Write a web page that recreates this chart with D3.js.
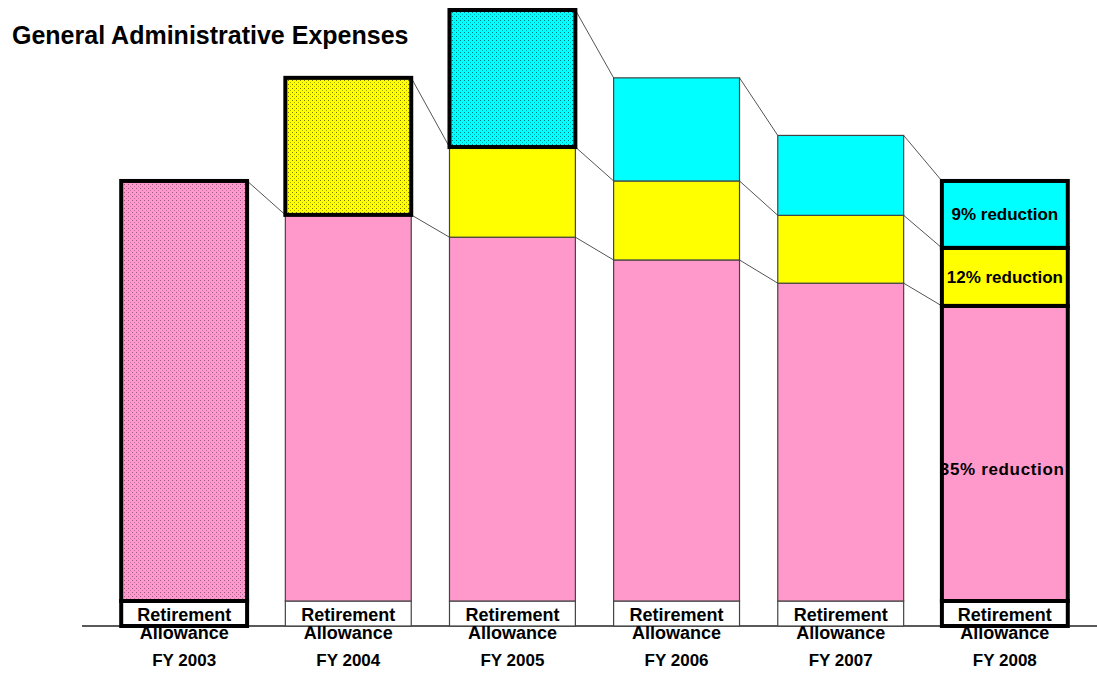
<!DOCTYPE html>
<html>
<head>
<meta charset="utf-8">
<script src="https://cdn.jsdelivr.net/npm/d3@7"></script>
<style>
  html, body { margin: 0; padding: 0; background: #fff; }
  svg { display: block; }
  text { font-family: "Liberation Sans", Arial, sans-serif; font-weight: bold; fill: #000; }
</style>
</head>
<body>
<svg id="chart" width="1097" height="673"></svg>
<script>
// Fiscal years shown along the baseline
const categories = ["FY 2003", "FY 2004", "FY 2005", "FY 2006", "FY 2007", "FY 2008"];
// Retirement allowance (bottom box of each bar)
const retirement = [5.6, 5.6, 5.6, 5.6, 5.6, 5.6];
// Base general administrative expenses (pink)
const baseExpenses = [94.1, 86.5, 81.5, 76.4, 71.2, 66.1];
// Second tier added from FY 2004 (yellow)
const tierYellow = [0, 30.7, 20.2, 17.7, 15.2, 13.0];
// Third tier added from FY 2005 (cyan)
const tierCyan = [0, 0, 30.7, 23.1, 17.9, 15.0];
// Which segments are outlined heavily: "all" = whole bar
const emphasis = ["all", "yellow", "cyan", null, null, "all"];
// Which segments are drawn with a dotted fill
const dotted = ["pink", "yellow", "cyan", null, null, null];
// Labels written inside the FY 2008 bar
const reductionLabels = { cyan: "9% reduction", yellow: "12% reduction", pink: "35% reduction" };
const labelYear = "FY 2008";

const colors = { retire: "#ffffff", pink: "#ff99cc", yellow: "#ffff00", cyan: "#00ffff" };
const dotColors = { pink: "#9a5a86", yellow: "#7a7a00", cyan: "#007a80" };

const svg = d3.select("#chart");

// dotted fills
const defs = svg.append("defs");
Object.keys(dotColors).forEach(k => {
  const p = defs.append("pattern")
    .attr("id", "dots-" + k)
    .attr("patternUnits", "userSpaceOnUse")
    .attr("width", 4).attr("height", 4);
  p.append("rect").attr("width", 4).attr("height", 4).attr("fill", colors[k]);
  p.append("rect").attr("x", 0).attr("y", 0).attr("width", 1).attr("height", 1).attr("fill", dotColors[k]);
  p.append("rect").attr("x", 2).attr("y", 2).attr("width", 1).attr("height", 1).attr("fill", dotColors[k]).attr("opacity", 0.6);
});

const x = d3.scaleBand()
  .domain(categories)
  .range([102, 1087])
  .paddingInner(0.233)
  .paddingOuter(0.117);

const y = d3.scaleLinear().domain([0, 138]).range([626, 10]);

// build stacked segments
const rows = categories.map((c, i) => {
  const segs = [];
  let acc = 0;
  [["retire", retirement[i]], ["pink", baseExpenses[i]], ["yellow", tierYellow[i]], ["cyan", tierCyan[i]]]
    .forEach(([key, v]) => {
      if (v > 0) {
        segs.push({ cat: c, i, key, y0: acc, y1: acc + v });
        acc += v;
      }
    });
  return { cat: c, i, segs };
});

// connector lines between matching segment tops of neighbouring bars
const connectors = [];
for (let i = 0; i < rows.length - 1; i++) {
  rows[i].segs.forEach(s => {
    if (s.key === "retire") return;
    const next = rows[i + 1].segs.find(t => t.key === s.key);
    if (next) connectors.push({ x1: x(rows[i].cat) + x.bandwidth(), y1: y(s.y1), x2: x(rows[i + 1].cat), y2: y(next.y1) });
  });
}
svg.append("g").selectAll("line").data(connectors).join("line")
  .attr("x1", d => d.x1).attr("y1", d => d.y1)
  .attr("x2", d => d.x2).attr("y2", d => d.y2)
  .attr("stroke", "#555").attr("stroke-width", 1);

// axis baseline
svg.append("line")
  .attr("x1", 82).attr("x2", 1097)
  .attr("y1", y(0)).attr("y2", y(0))
  .attr("stroke", "#222").attr("stroke-width", 1.5);

const allSegs = rows.flatMap(r => r.segs);
const isHeavy = d => emphasis[d.i] === "all" || emphasis[d.i] === d.key;

const segFill = d => (dotted[d.i] === d.key ? "url(#dots-" + d.key + ")" : colors[d.key]);

// plain segments first, heavy outlined ones on top
const segG = svg.append("g");
segG.selectAll("rect.plain").data(allSegs.filter(d => !isHeavy(d))).join("rect")
  .attr("class", "plain")
  .attr("x", d => x(d.cat))
  .attr("y", d => y(d.y1))
  .attr("width", x.bandwidth())
  .attr("height", d => y(d.y0) - y(d.y1))
  .attr("fill", segFill)
  .attr("stroke", "#444").attr("stroke-width", 1.2);

const heavyData = allSegs.filter(isHeavy);
segG.selectAll("rect.heavyfill").data(heavyData).join("rect")
  .attr("class", "heavyfill")
  .attr("x", d => x(d.cat))
  .attr("y", d => y(d.y1))
  .attr("width", x.bandwidth())
  .attr("height", d => y(d.y0) - y(d.y1))
  .attr("fill", segFill);

// labels inside FY 2008 bar (drawn before the heavy outline so the border overlaps)
const labelRow = rows.find(r => r.cat === labelYear);
const labelShift = { cyan: 0, yellow: 0, pink: 16 };
svg.append("g").selectAll("text").data(labelRow.segs.filter(s => reductionLabels[s.key])).join("text")
  .attr("x", d => x(d.cat) + x.bandwidth() / 2 - (d.key === "pink" ? 3 : 0))
  .attr("y", d => (y(d.y0) + y(d.y1)) / 2 + 6 + labelShift[d.key])
  .attr("text-anchor", "middle")
  .attr("font-size", 17)
  .attr("textLength", d => d.key === "pink" ? 124 : null)
  .text(d => reductionLabels[d.key]);

segG.append("g").selectAll("rect").data(heavyData).join("rect")
  .attr("x", d => x(d.cat))
  .attr("y", d => y(d.y1))
  .attr("width", x.bandwidth())
  .attr("height", d => y(d.y0) - y(d.y1))
  .attr("fill", "none")
  .attr("stroke", "#000").attr("stroke-width", 4);

// category labels
const lab = svg.append("g").selectAll("g").data(categories).join("g")
  .attr("transform", d => `translate(${x(d) + x.bandwidth() / 2},0)`);
lab.append("text").attr("y", 621).attr("text-anchor", "middle").attr("font-size", 18).text("Retirement");
lab.append("text").attr("y", 639).attr("text-anchor", "middle").attr("font-size", 18).text("Allowance");
lab.append("text").attr("y", 666).attr("text-anchor", "middle").attr("font-size", 17).text(d => d);

// title
svg.append("text")
  .attr("x", 12).attr("y", 44)
  .attr("font-size", 25)
  .text("General Administrative Expenses");
</script>
</body>
</html>
